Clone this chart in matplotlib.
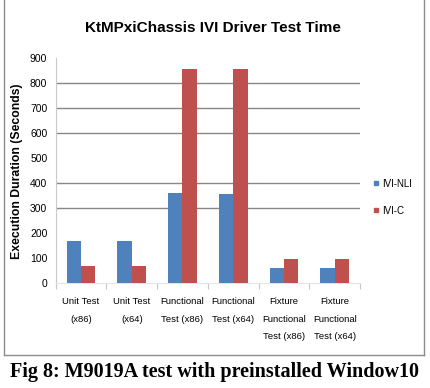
import matplotlib.pyplot as plt
import numpy as np
from matplotlib.lines import Line2D

# data
categories = ['Unit Test\n(x86)', 'Unit Test\n(x64)', 'Functional\nTest (x86)',
              'Functional\nTest (x64)', 'Fixture\nFunctional\nTest (x86)',
              'Fixture\nFunctional\nTest (x64)']
ivi_nli = [170, 170, 361, 357, 62, 62]
ivi_c = [70, 70, 857, 857, 97, 97]
y_ticks = [0, 100, 200, 300, 400, 500, 600, 700, 800, 900]
grid_vals = [300, 400, 600, 700, 800]  # only these gridlines show in the scan

sans = ['Liberation Sans', 'DejaVu Sans']
blue = '#4F81BD'
red = '#C0504D'

fig = plt.figure(figsize=(4.30, 3.88), dpi=100)
ax = fig.add_axes([0.1295, 0.2698, 0.7077, 0.58])

x = np.arange(len(categories))
w = 0.283
ax.bar(x - w / 2, ivi_nli, w, color=blue, label='IVI-NLI', zorder=3)
ax.bar(x + w / 2, ivi_c, w, color=red, label='IVI-C', zorder=3)

for g in grid_vals:
    ax.axhline(g, color='#878787', lw=1.0, zorder=1)

ax.set_xlim(-0.5, len(categories) - 0.5)
ax.set_ylim(0, 900)
ax.set_yticks(y_ticks)
ax.set_yticklabels([str(v) for v in y_ticks], family=sans, fontsize=7.5)
ax.tick_params(axis='y', length=0, pad=6)

# category boundary ticks
ax.set_xticks(np.arange(len(categories) + 1) - 0.5)
ax.set_xticklabels([])
ax.tick_params(axis='x', length=4, color='#c8c8c8', direction='out')
for i, c in enumerate(categories):
    ax.text(i, -56, c, ha='center', va='top', family=sans, fontsize=6.8,
            linespacing=2.2)

for s in ['top', 'right']:
    ax.spines[s].set_visible(False)
ax.spines['left'].set_color('#c8c8c8')
ax.spines['bottom'].set_color('#e4e4e4')

ax.set_ylabel('Execution Duration (Seconds)', family=sans, fontsize=8.8,
              fontweight='bold', labelpad=5)

fig.text(0.495, 0.928, 'KtMPxiChassis IVI Driver Test Time', ha='center',
         va='center', family=sans, fontsize=11, fontweight='bold')

# legend
handles = [Line2D([], [], marker='s', color=blue, ls='', markersize=3.5),
           Line2D([], [], marker='s', color=red, ls='', markersize=3.5)]
fig.legend(handles, ['IVI-NLI', 'IVI-C'], loc='center left',
           bbox_to_anchor=(0.866, 0.492), frameon=False, handletextpad=0.2,
           handlelength=0.8, borderpad=0, borderaxespad=0,
           labelspacing=1.75, prop={'family': sans, 'size': 7})

# outer chart frame
fy = 1 - 355 / 388
fx0, fx1 = 4 / 430, 424 / 430
for xs, ys in [([fx0, fx0], [fy, 1]), ([fx1, fx1], [fy, 1]), ([fx0, fx1], [fy, fy])]:
    fig.add_artist(Line2D(xs, ys, color='#8c8c8c', lw=1.0))

fig.text(0.5, 1 - 372 / 388, 'Fig 8: M9019A test with preinstalled Window10',
         ha='center', va='center', family='Liberation Serif', fontsize=14.5,
         fontweight='bold')

fig.savefig('out.png', dpi=100)
